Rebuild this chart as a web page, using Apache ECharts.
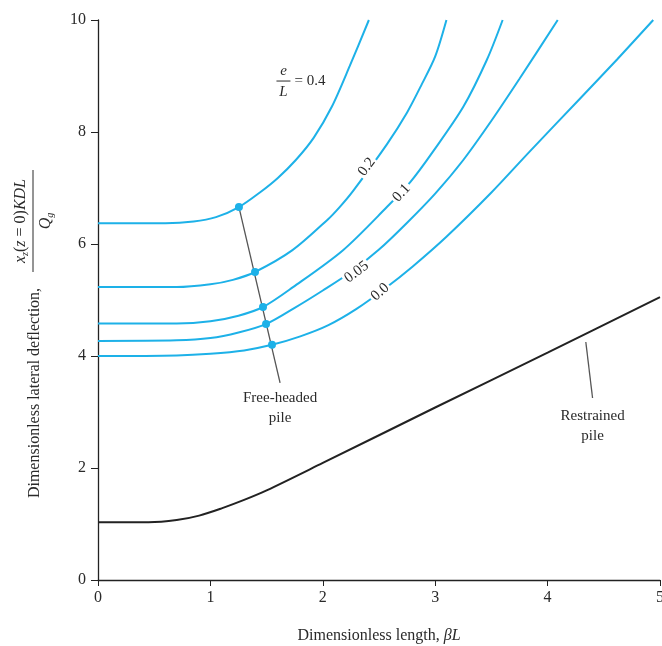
<!DOCTYPE html>
<html>
<head>
<meta charset="utf-8">
<script src="https://cdn.jsdelivr.net/npm/echarts@6/dist/echarts.min.js"></script>
<style>
html,body{margin:0;padding:0;background:#fff;overflow:hidden;}
#chart{width:662px;height:646px;}
</style>
</head>
<body>
<div id="chart"></div>
<script>
// ---- data ----
var xTicks = [0, 1, 2, 3, 4, 5];
var yTicks = [0, 2, 4, 6, 8, 10];

var curveE040 = [[0,6.37],[0.6,6.37],[0.85,6.40],[1.05,6.48],[1.254,6.66],[1.44,6.92],[1.60,7.18],[1.76,7.5],[1.92,7.9],[2.08,8.45],[2.24,9.18],[2.41,10]];
var curveE020 = [[0,5.23],[0.7,5.23],[1.0,5.28],[1.2,5.36],[1.397,5.50],[1.73,5.89],[2.04,6.43],[2.15,6.66],[2.27,6.95],[2.57,7.78],[2.75,8.35],[2.88,8.85],[3.0,9.35],[3.10,10]];
var curveE010 = [[0,4.58],[0.7,4.58],[1.0,4.62],[1.25,4.72],[1.468,4.875],[1.735,5.23],[2.18,5.89],[2.57,6.66],[2.78,7.11],[2.98,7.65],[3.25,8.45],[3.46,9.29],[3.60,10]];
var curveE005 = [[0,4.27],[0.7,4.28],[1.0,4.32],[1.25,4.42],[1.495,4.57],[1.75,4.86],[2.0,5.17],[2.25,5.5],[2.5,5.9],[2.75,6.38],[3.0,6.9],[3.25,7.5],[3.5,8.2],[3.75,8.95],[4.09,10]];
var curveE000 = [[0,4.0],[0.7,4.01],[1.0,4.04],[1.3,4.1],[1.548,4.20],[1.8,4.35],[2.05,4.55],[2.3,4.84],[2.55,5.2],[2.8,5.6],[3.1,6.13],[3.5,6.92],[3.84,7.65],[4.3,8.62],[4.62,9.3],[4.94,10]];
var curveRestrained = [[0,1.03],[0.45,1.03],[0.7,1.07],[0.9,1.15],[1.1,1.28],[1.3,1.43],[1.5,1.6],[2,2.09],[3,3.08],[4,4.06],[5,5.05]];

var freeHeadDots = [[1.254,6.66],[1.397,5.50],[1.468,4.875],[1.495,4.57],[1.548,4.20]];
var freeHeadPointer = [[1.254,6.66],[1.62,3.52]];
var restrainedPointer = [[4.34,4.25],[4.40,3.25]];

var curveLabels = [
  {text:'0.2',  at:[2.39,7.375], angle:53},
  {text:'0.1',  at:[2.70,6.91],  angle:47},
  {text:'0.05', at:[2.30,5.5],   angle:37},
  {text:'0.0',  at:[2.51,5.14],  angle:42}
];
var noteLabels = [
  {text:'Free-headed\npile', at:[1.62,3.07]},
  {text:'Restrained\npile',  at:[4.40,2.75]}
];
var eLLabelAt = [1.65, 8.91];

// ---- styles ----
var BLUE = '#1db1e8';
var TXT = '#2a2a2a';
var SERIF = '"Liberation Serif","DejaVu Serif",serif';

var chart = echarts.init(document.getElementById('chart'));

function curve(d){
  return {type:'line', data:d, showSymbol:false, smooth:0.3,
    lineStyle:{color:BLUE, width:2}, z:3, silent:true};
}

var option = {
  animation:false,
  backgroundColor:'#fff',
  grid:{left:98, right:2, top:20, bottom:66, containLabel:false, outerBoundsMode:'none'},
  xAxis:{type:'value', min:0, max:5, interval:1,
    axisLine:{lineStyle:{color:'#222', width:1.3}},
    axisTick:{length:6, lineStyle:{color:'#222'}},
    axisLabel:{color:TXT, fontFamily:SERIF, fontSize:16, margin:10},
    splitLine:{show:false}},
  yAxis:{type:'value', min:0, max:10, interval:2,
    axisLine:{lineStyle:{color:'#222', width:1.3}},
    axisTick:{length:7, lineStyle:{color:'#222'}},
    axisLabel:{color:TXT, fontFamily:SERIF, fontSize:16, margin:12},
    splitLine:{show:false}},
  series:[
    {type:'line', data:freeHeadPointer, showSymbol:false, lineStyle:{color:'#555', width:1.3}, z:2},
    {type:'line', data:restrainedPointer, showSymbol:false, lineStyle:{color:'#555', width:1.3}, z:2},
    curve(curveE040), curve(curveE020), curve(curveE010), curve(curveE005), curve(curveE000),
    {type:'line', data:curveRestrained, showSymbol:false, smooth:0.3,
      lineStyle:{color:'#222', width:2}, z:3},
    {type:'scatter', data:freeHeadDots, symbolSize:8, itemStyle:{color:BLUE, opacity:1}, z:5}
  ]
};
chart.setOption(option);

// annotations placed through the chart's coordinate conversion
function px(d){ return chart.convertToPixel({gridIndex:0}, d); }
var p = px(eLLabelAt);
var gridTop = px([0,10]);
var gridBot = px([5,0]);
var midX = (gridTop[0] + gridBot[0]) / 2;

var graphics = [
  {type:'text', x:p[0], y:p[1]-10, style:{text:'e', fontFamily:SERIF, fontStyle:'italic', fontSize:15, fill:TXT, align:'center', verticalAlign:'middle'}},
  {type:'line', shape:{x1:p[0]-7, y1:p[1], x2:p[0]+7, y2:p[1]}, style:{stroke:TXT, lineWidth:1}},
  {type:'text', x:p[0], y:p[1]+11, style:{text:'L', fontFamily:SERIF, fontStyle:'italic', fontSize:15, fill:TXT, align:'center', verticalAlign:'middle'}},
  {type:'text', x:p[0]+11, y:p[1], style:{text:'= 0.4', fontFamily:SERIF, fontSize:15, fill:TXT, align:'left', verticalAlign:'middle'}},
  {type:'text', x:midX, y:636, style:{
    text:'Dimensionless length, {i|βL}', fontFamily:SERIF, fontSize:16, fill:TXT, align:'center', verticalAlign:'middle',
    rich:{i:{fontFamily:SERIF, fontStyle:'italic', fontSize:16, fill:TXT}}}},
  {type:'group', x:35, y:393, rotation:Math.PI/2, children:[
    {type:'text', x:0, y:0, style:{text:'Dimensionless lateral deflection,', fontFamily:SERIF, fontSize:16, fill:TXT, align:'center', verticalAlign:'middle'}}
  ]},
  {type:'group', x:33, y:221, rotation:Math.PI/2, children:[
    {type:'text', x:0, y:-12, style:{text:'{i|x}{s|z}({i|z} = 0){i|KDL}', fontFamily:SERIF, fontSize:16, fill:TXT, align:'center', verticalAlign:'middle',
      rich:{i:{fontFamily:SERIF, fontStyle:'italic', fontSize:16, fill:TXT}, s:{fontFamily:SERIF, fontStyle:'italic', fontSize:10, fill:TXT, padding:[8,0,0,0]}}}},
    {type:'line', shape:{x1:-51, y1:0, x2:51, y2:0}, style:{stroke:TXT, lineWidth:1}},
    {type:'text', x:0, y:13, style:{text:'{i|Q}{s|g}', fontFamily:SERIF, fontSize:16, fill:TXT, align:'center', verticalAlign:'middle',
      rich:{i:{fontFamily:SERIF, fontStyle:'italic', fontSize:16, fill:TXT}, s:{fontFamily:SERIF, fontStyle:'italic', fontSize:10, fill:TXT, padding:[8,0,0,0]}}}}
  ]}
];
curveLabels.forEach(function(c){
  var q = px(c.at);
  graphics.push({type:'text', x:q[0], y:q[1], rotation:c.angle*Math.PI/180, z:10,
    style:{text:c.text, fontFamily:SERIF, fontSize:15, fill:TXT, align:'center', verticalAlign:'middle',
      backgroundColor:'#fff', padding:[0,2]}});
});
noteLabels.forEach(function(c){
  var q = px(c.at);
  graphics.push({type:'text', x:q[0], y:q[1], z:10,
    style:{text:c.text, fontFamily:SERIF, fontSize:15, lineHeight:20, fill:TXT, align:'center', verticalAlign:'middle'}});
});
chart.setOption({graphic:graphics});
</script>
</body>
</html>
